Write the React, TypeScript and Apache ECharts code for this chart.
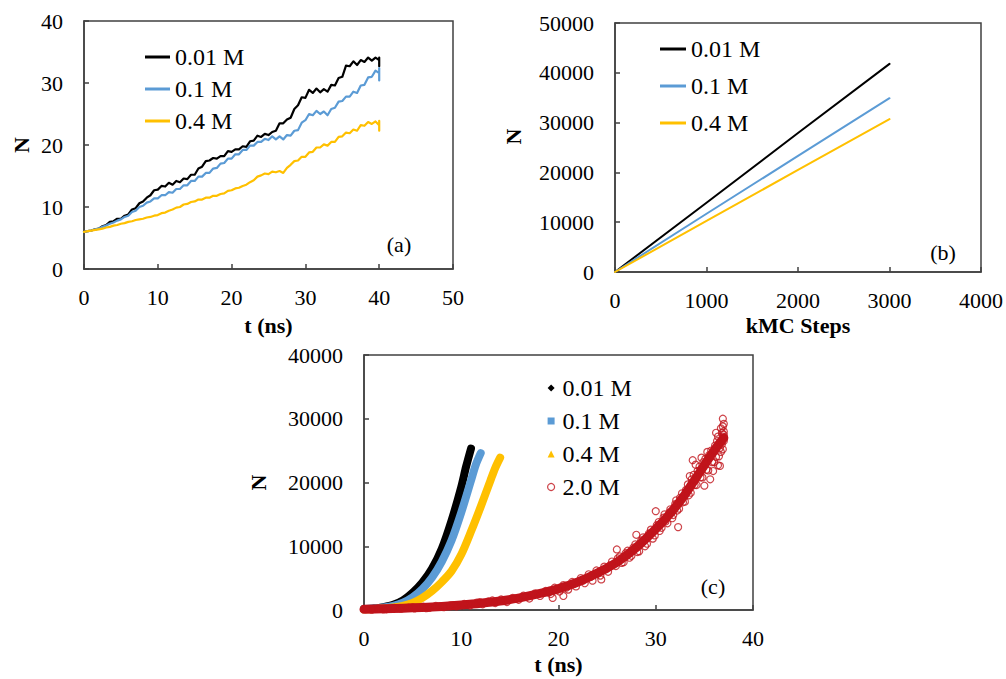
import React, { useEffect, useRef } from "react";
import * as echarts from "echarts";

const FONT = "'Liberation Serif', 'Times New Roman', serif";
const BLACK = "#000000";
const BLUE = "#5b9bd5";
const YELLOW = "#ffc000";
const RED = "#c0141c";
const AXIS = "#404040";

const NAMES = ["0.01 M", "0.1 M", "0.4 M", "2.0 M"];

// (a) N vs t (ns), sampled every 0.5 ns
const aTime = [
  0, 0.5, 1, 1.5, 2, 2.5, 3, 3.5, 4, 4.5, 5, 5.5, 6, 6.5, 7, 7.5, 8, 8.5, 9, 9.5,
  10, 10.5, 11, 11.5, 12, 12.5, 13, 13.5, 14, 14.5, 15, 15.5, 16, 16.5, 17, 17.5, 18, 18.5, 19, 19.5,
  20, 20.5, 21, 21.5, 22, 22.5, 23, 23.5, 24, 24.5, 25, 25.5, 26, 26.5, 27, 27.5, 28, 28.5, 29, 29.5,
  30, 30.5, 31, 31.5, 32, 32.5, 33, 33.5, 34, 34.5, 35, 35.5, 36, 36.5, 37, 37.5, 38, 38.5, 39, 39.5, 40,
];
const aN001 = [
  6.0, 6.1, 6.2, 6.4, 6.5, 6.9, 7.1, 7.6, 7.7, 8.1, 8.1, 8.6, 8.8, 9.6, 9.8, 10.6, 10.9, 11.5, 11.9, 12.7,
  12.8, 13.4, 13.3, 13.9, 13.6, 14.2, 14.0, 14.6, 14.5, 15.2, 15.2, 16.2, 16.5, 17.4, 17.5, 17.9, 17.8, 18.2, 18.2, 19.0,
  18.9, 19.3, 19.3, 19.8, 19.7, 20.6, 20.7, 21.5, 21.3, 21.8, 21.6, 22.1, 22.3, 23.5, 23.5, 24.1, 24.4, 25.8, 26.4, 27.7,
  27.6, 28.9, 28.4, 29.1, 28.5, 29.0, 28.6, 29.7, 29.6, 30.8, 31.0, 32.8, 32.7, 33.5, 32.9, 33.7, 33.4, 34.1, 33.6, 34.1, 33.7,
];
const aN01 = [
  6.0, 6.1, 6.2, 6.4, 6.5, 6.8, 7.0, 7.3, 7.5, 7.8, 8.0, 8.4, 8.6, 9.2, 9.4, 10.0, 10.2, 10.7, 10.9, 11.4,
  11.4, 11.9, 11.9, 12.4, 12.3, 12.9, 12.9, 13.5, 13.5, 14.2, 14.2, 14.9, 14.9, 15.5, 15.5, 16.2, 16.3, 17.0, 17.1, 17.8,
  17.8, 18.5, 18.5, 19.2, 19.2, 19.9, 19.9, 20.5, 20.5, 21.0, 20.8, 21.4, 20.9, 21.4, 20.9, 21.6, 21.5, 22.3, 22.4, 23.6,
  24.0, 25.0, 24.8, 25.5, 25.0, 25.4, 24.8, 25.8, 26.0, 27.0, 27.1, 27.8, 27.8, 28.6, 28.4, 29.6, 29.7, 30.9, 31.0, 32.0, 31.6,
];
const aN04 = [
  6.0, 6.1, 6.2, 6.3, 6.4, 6.5, 6.7, 6.8, 7.0, 7.1, 7.3, 7.4, 7.6, 7.7, 7.9, 8.0, 8.1, 8.3, 8.4, 8.6,
  8.7, 9.0, 9.1, 9.4, 9.6, 9.9, 10.0, 10.4, 10.5, 10.8, 10.9, 11.2, 11.2, 11.5, 11.5, 11.8, 11.8, 12.1, 12.2, 12.6,
  12.7, 13.0, 13.1, 13.4, 13.6, 14.0, 14.3, 14.9, 15.1, 15.4, 15.3, 15.7, 15.6, 15.8, 15.5, 16.3, 16.8, 17.4, 17.5, 18.1,
  18.1, 18.8, 18.9, 19.6, 19.6, 20.1, 19.9, 20.5, 20.5, 21.3, 21.4, 22.0, 21.9, 22.5, 22.3, 23.2, 23.1, 23.7, 23.4, 23.8, 23.2,
];
const aEnd001 = [32.7, 34.1];
const aEnd01 = [30.4, 32.4];
const aEnd04 = [22.3, 23.9];

// (b) N vs kMC steps
const bSteps = [0, 1000, 2000, 3000];
const bN001 = [0, 13900, 27900, 41800];
const bN01 = [0, 11700, 23300, 34900];
const bN04 = [0, 10250, 20500, 30700];

// (c) N vs t (ns)
const cT001 = [0, 1, 2, 3, 4, 5, 6, 7, 8, 9, 10, 10.5, 11];
const cN001 = [150, 250, 450, 800, 1500, 2700, 4300, 6500, 9600, 14000, 19300, 22500, 25300];
const cT01 = [0, 1, 2, 3, 4, 5, 6, 7, 8, 9, 10, 11, 11.5, 12];
const cN01 = [150, 230, 380, 650, 1150, 2000, 3300, 5100, 7600, 10900, 15300, 20300, 22800, 24600];
const cT04 = [0, 1, 2, 3, 4, 5, 6, 7, 8, 9, 10, 11, 12, 13, 13.5, 14];
const cN04 = [100, 150, 250, 400, 650, 1100, 1900, 3000, 4400, 6100, 8700, 12300, 16200, 20300, 22300, 23900];
const cT20 = [0, 2, 4, 6, 8, 10, 12, 14, 16, 18, 20, 22, 24, 26, 28, 30, 31, 32, 33, 34, 35, 36, 37];
const cN20 = [100, 180, 280, 400, 560, 780, 1050, 1400, 1900, 2550, 3350, 4400, 5800, 7500, 9800, 12700, 14300, 16100, 18100, 20400, 22700, 25000, 27000];
const cScatter20: [number, number][] = [
  [0.2, 150], [0.8, 60], [1.5, 250], [2.3, 120], [3.1, 330], [3.8, 200], [4.6, 380], [5.2, 250], [6.1, 520], [6.7, 330],
  [7.4, 640], [8.2, 450], [8.9, 720], [9.5, 560], [10.3, 950], [10.9, 700], [11.6, 1150], [12.2, 900], [12.8, 1350], [13.5, 1100],
  [14.1, 1650], [14.7, 1250], [15.3, 1900], [15.9, 1600], [16.4, 2250], [17.0, 1800], [17.6, 2600], [18.1, 2200], [18.7, 3000], [19.2, 2500],
  [19.6, 3500], [20.1, 2900], [20.5, 3900], [21.0, 3200], [21.4, 4400], [21.8, 3700], [22.3, 5000], [22.7, 4200], [23.1, 5600], [23.5, 4600],
  [23.9, 6200], [24.3, 5400], [24.7, 6800], [25.1, 6000], [25.5, 7600], [25.9, 6900], [26.3, 8400], [26.7, 7500], [27.1, 9300], [27.5, 8500],
  [27.9, 10300], [28.3, 9200], [28.7, 11400], [29.1, 10400], [29.5, 12600], [29.9, 11700], [30.3, 13800], [30.6, 12900], [30.9, 15000], [31.2, 13600],
  [31.5, 15800], [31.8, 14900], [32.1, 17200], [32.4, 15900], [32.7, 18300], [33.0, 17000], [33.3, 19700], [33.6, 18400], [33.9, 21200], [34.2, 19600],
  [34.5, 22500], [34.8, 20800], [35.1, 23700], [35.4, 21900], [35.7, 25000], [36.0, 23200], [36.3, 26500], [36.5, 24100], [36.7, 28500], [36.8, 26000],
  [36.9, 30000], [36.9, 27200], [37.0, 29200], [37.0, 26500], [36.6, 22600], [35.0, 19500], [32.3, 13000], [30.0, 15500], [28.0, 11800], [24.4, 4800],
  [20.5, 2200], [19.4, 1900], [26.0, 9500], [33.8, 23500],
  [26.1, 8100], [26.5, 7400], [26.9, 8900], [27.3, 8200], [27.7, 9800], [28.1, 9100], [28.5, 10900], [28.9, 10000], [29.3, 12000], [29.7, 11200],
  [30.1, 13300], [30.4, 12400], [30.8, 14500], [31.0, 13900], [31.4, 15300], [31.7, 14400], [32.0, 16600], [32.2, 15600], [32.5, 17600], [32.8, 16900],
  [33.1, 18800], [33.4, 18000], [33.7, 20500], [34.0, 19600], [34.3, 21800], [34.6, 20800], [34.9, 23200], [35.2, 22000], [35.5, 24300], [35.8, 23200],
  [36.1, 25800], [36.2, 24000], [36.4, 27200], [36.6, 25400], [36.8, 27800], [36.9, 25200], [37.0, 28000], [36.7, 24800], [36.4, 22700], [35.9, 21800],
  [35.3, 24800], [34.7, 23900], [34.1, 22800], [33.5, 21000], [35.6, 20500], [36.2, 27800], [36.9, 28800], [37.0, 27500],
  [1.0, 180], [2.0, 90], [3.5, 280], [5.0, 420], [6.4, 300], [7.8, 560], [9.2, 780], [10.6, 830], [11.9, 1250], [13.2, 1500],
  [14.4, 1450], [15.6, 1750], [16.7, 2100], [17.3, 2350], [18.4, 2700], [19.0, 2800], [19.9, 3200], [20.8, 3500], [21.6, 4100], [22.5, 4600],
  [23.3, 5200], [24.1, 5800], [24.9, 6400], [25.3, 7000],
];

const zip = (xs: number[], ys: number[]) => xs.map((x, i) => [x, ys[i]]);

const labelStyle = { fontFamily: FONT, fontSize: 22, color: "#000" };
const nameStyle = { fontFamily: FONT, fontSize: 22, fontWeight: "bold" as const, color: "#000" };
const plain = (v: number) => String(v);

function xAxis(gridIndex: number, min: number, max: number, interval: number, name: string, nameGap: number) {
  return {
    type: "value", gridIndex, min, max, interval, name, nameLocation: "middle", nameGap,
    nameTextStyle: nameStyle,
    axisLine: { show: true, lineStyle: { color: AXIS, width: 1.5 } },
    axisTick: { show: true, inside: true, length: 5, lineStyle: { color: AXIS, width: 1.5 } },
    splitLine: { show: false },
    axisLabel: { ...labelStyle, margin: 17, formatter: plain },
  };
}
function yAxis(gridIndex: number, min: number, max: number, interval: number, name: string, nameGap: number, namePad: number[] = [0, 0, 0, 0]) {
  return {
    type: "value", gridIndex, min, max, interval, name, nameLocation: "middle", nameGap,
    nameTextStyle: { ...nameStyle, padding: namePad },
    axisLine: { show: true, lineStyle: { color: AXIS, width: 1.5 } },
    axisTick: { show: true, inside: true, length: 5, lineStyle: { color: AXIS, width: 1.5 } },
    splitLine: { show: false },
    axisLabel: { ...labelStyle, margin: 21, formatter: plain },
  };
}

function lineSeries(name: string, color: string, data: number[][], axisIdx: number, width: number, smooth: number | boolean = false, z = 2) {
  return {
    type: "line", name, xAxisIndex: axisIdx, yAxisIndex: axisIdx, data, symbol: "none", showSymbol: false,
    smooth, z, color, itemStyle: { color },
    lineStyle: { color, width, cap: "round", join: "round" },
  };
}

const legendText = { fontFamily: FONT, fontSize: 24, color: "#000", lineHeight: 24 };

const option = {
  animation: false,
  backgroundColor: "#ffffff",
  textStyle: { fontFamily: FONT },
  grid: [
    { left: 84, top: 21, width: 369, height: 248, show: true, borderColor: AXIS, borderWidth: 1.5, containLabel: false },
    { left: 615, top: 23, width: 367, height: 249, show: true, borderColor: AXIS, borderWidth: 1.5, containLabel: false },
    { left: 364, top: 355, width: 389, height: 255, show: true, borderColor: AXIS, borderWidth: 1.5, containLabel: false },
  ],
  xAxis: [
    xAxis(0, 0, 50, 10, "t (ns)", 45),
    xAxis(1, 0, 4000, 1000, "kMC Steps", 42),
    xAxis(2, 0, 40, 10, "t (ns)", 43),
  ],
  yAxis: [
    yAxis(0, 0, 40, 10, "N", 52),
    yAxis(1, 0, 50000, 10000, "N", 91, [0, 0, 0, 22]),
    yAxis(2, 0, 40000, 10000, "N", 95),
  ],
  legend: [
    {
      left: 140, top: 40, orient: "vertical", itemWidth: 25, itemHeight: 3, itemGap: 8, icon: "rect",
      selectedMode: false, data: NAMES.slice(0, 3), textStyle: legendText, itemStyle: { borderWidth: 0 },
    },
    {
      left: 655, top: 32, orient: "vertical", itemWidth: 26, itemHeight: 3, itemGap: 13, icon: "rect",
      selectedMode: false, data: NAMES.slice(0, 3), textStyle: legendText, itemStyle: { borderWidth: 0 },
    },
    {
      left: 542, top: 371, orient: "vertical", itemWidth: 7, itemHeight: 7, itemGap: 9,
      selectedMode: false, textStyle: { ...legendText, padding: [0, 0, 0, 3] }, itemStyle: { borderWidth: 0 },
      data: [
        { name: NAMES[0], icon: "diamond" },
        { name: NAMES[1], icon: "rect" },
        { name: NAMES[2], icon: "triangle" },
        { name: NAMES[3], icon: "circle", itemStyle: { color: "transparent", borderColor: RED, borderWidth: 1.2 } },
      ],
    },
  ],
  graphic: [
    { type: "text", x: 399, y: 244, style: { text: "(a)", fontFamily: FONT, fontSize: 22, fill: "#000", align: "center", verticalAlign: "middle" } },
    { type: "text", x: 943, y: 252, style: { text: "(b)", fontFamily: FONT, fontSize: 22, fill: "#000", align: "center", verticalAlign: "middle" } },
    { type: "text", x: 713, y: 586, style: { text: "(c)", fontFamily: FONT, fontSize: 22, fill: "#000", align: "center", verticalAlign: "middle" } },
  ],
  series: [
    // (a)
    lineSeries(NAMES[0], BLACK, [...zip(aTime, aN001), ...aEnd001.map((v) => [40, v])], 0, 2.2),
    lineSeries(NAMES[1], BLUE, [...zip(aTime, aN01), ...aEnd01.map((v) => [40, v])], 0, 2.2),
    lineSeries(NAMES[2], YELLOW, [...zip(aTime, aN04), ...aEnd04.map((v) => [40, v])], 0, 2.2),
    // (b)
    lineSeries(NAMES[0], BLACK, zip(bSteps, bN001), 1, 2),
    lineSeries(NAMES[1], BLUE, zip(bSteps, bN01), 1, 2),
    lineSeries(NAMES[2], YELLOW, zip(bSteps, bN04), 1, 2),
    // (c)
    lineSeries(NAMES[0], BLACK, zip(cT001, cN001), 2, 8, 0.3),
    lineSeries(NAMES[1], BLUE, zip(cT01, cN01), 2, 8, 0.3),
    lineSeries(NAMES[2], YELLOW, zip(cT04, cN04), 2, 8, 0.3),
    {
      type: "scatter", name: NAMES[3], xAxisIndex: 2, yAxisIndex: 2, data: cScatter20, z: 4,
      symbol: "circle", symbolSize: 7,
      itemStyle: { color: "transparent", borderColor: RED, borderWidth: 1.2 },
    },
    lineSeries(NAMES[3], RED, zip(cT20, cN20), 2, 9, 0.3, 3),
  ],
};

export default function App() {
  const ref = useRef<HTMLDivElement>(null);
  useEffect(() => {
    if (!ref.current) return;
    const chart = echarts.init(ref.current, null, { renderer: "svg" });
    chart.setOption(option as any);
    return () => chart.dispose();
  }, []);
  return (
    <div
      ref={ref}
      style={{ position: "fixed", left: 0, top: 0, width: 1006, height: 679, background: "#fff" }}
    />
  );
}
